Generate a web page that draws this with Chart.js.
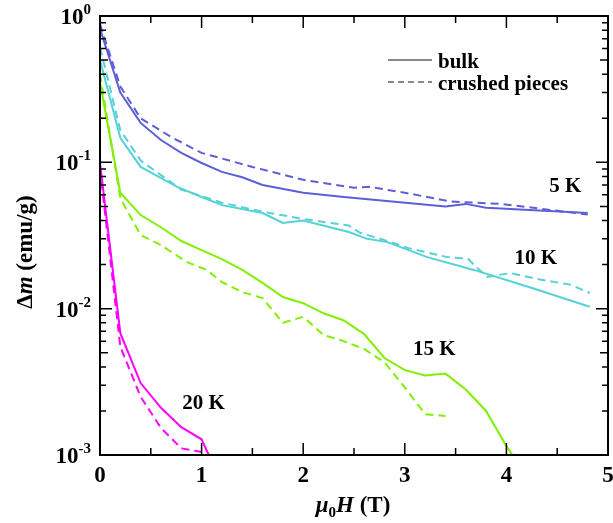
<!DOCTYPE html>
<html>
<head>
<meta charset="utf-8">
<script src="https://cdn.jsdelivr.net/npm/chart.js@4.4.0/dist/chart.umd.min.js"></script>
<style>
html, body { margin: 0; padding: 0; background: #fff; }
</style>
</head>
<body>
<canvas id="chart" width="613" height="523"></canvas>
<script>
// field (T) and moment difference (emu/g)
var field5bulk = [0, 0.2, 0.4, 0.6, 0.8, 1.0, 1.2, 1.4, 1.6, 2.0, 2.4, 3.4, 3.6, 3.8, 4.8];
var dm5bulk    = [0.82, 0.30, 0.186, 0.142, 0.116, 0.099, 0.086, 0.079, 0.070, 0.062, 0.058, 0.050, 0.052, 0.049, 0.045];
var field5crush = [0, 0.2, 0.4, 0.7, 1.0, 1.5, 2.0, 2.5, 2.65, 3.0, 3.45, 3.95, 4.8];
var dm5crush    = [0.88, 0.33, 0.20, 0.149, 0.116, 0.093, 0.076, 0.067, 0.068, 0.062, 0.054, 0.052, 0.044];

var field10bulk = [0, 0.2, 0.4, 0.76, 1.0, 1.2, 1.6, 1.8, 2.0, 2.45, 2.63, 2.83, 3.22, 3.68, 4.26, 4.82];
var dm10bulk    = [0.50, 0.147, 0.093, 0.068, 0.058, 0.051, 0.045, 0.0385, 0.040, 0.0334, 0.030, 0.0285, 0.0225, 0.0184, 0.0138, 0.0103];
var field10crush = [0, 0.2, 0.4, 0.8, 1.2, 1.6, 2.0, 2.45, 2.56, 2.83, 3.03, 3.42, 3.62, 3.71, 3.81, 4.04, 4.33, 4.63, 4.82];
var dm10crush    = [0.61, 0.166, 0.103, 0.065, 0.053, 0.046, 0.041, 0.037, 0.033, 0.029, 0.026, 0.0225, 0.022, 0.0191, 0.0165, 0.0175, 0.0158, 0.0146, 0.0128];

var field15bulk = [0, 0.2, 0.4, 0.6, 0.8, 1.0, 1.2, 1.4, 1.6, 1.8, 2.0, 2.2, 2.4, 2.6, 2.8, 3.0, 3.2, 3.4, 3.6, 3.8, 4.0, 4.06];
var dm15bulk    = [0.35, 0.062, 0.0436, 0.036, 0.029, 0.0251, 0.0218, 0.0184, 0.0150, 0.0120, 0.0109, 0.0093, 0.0083, 0.0067, 0.0046, 0.0038, 0.0035, 0.0036, 0.0028, 0.0020, 0.00115, 0.001];
var field15crush = [0, 0.2, 0.4, 0.6, 0.85, 1.05, 1.2, 1.4, 1.6, 1.8, 2.0, 2.2, 2.4, 2.6, 2.8, 3.0, 3.2, 3.4];
var dm15crush    = [0.40, 0.057, 0.0318, 0.0272, 0.0209, 0.0184, 0.0152, 0.0130, 0.0118, 0.0080, 0.0088, 0.0066, 0.0060, 0.0053, 0.0043, 0.0029, 0.0019, 0.00185];

var field20bulk = [0, 0.2, 0.4, 0.6, 0.8, 1.0, 1.07];
var dm20bulk    = [0.099, 0.0068, 0.0031, 0.0021, 0.00155, 0.00128, 0.001];
var field20crush = [0, 0.2, 0.4, 0.6, 0.8, 1.0];
var dm20crush    = [0.09, 0.0055, 0.0025, 0.00153, 0.00111, 0.00105];

var xTicks = [0, 1, 2, 3, 4, 5];
var yDecades = [0, -1, -2, -3];
var tempLabels = ['5 K', '10 K', '15 K', '20 K'];
var tempLabelX = [4.58, 4.29, 3.29, 1.02];
var tempLabelY = [0.070, 0.0225, 0.0054, 0.0023];
var legendNames = ['bulk', 'crushed pieces'];

var blue = '#5e5ed8', cyan = '#55d2d6', green = '#80f000', magenta = '#ff00ff';
var serif = '"Liberation Serif", "Times New Roman", serif';

function pts(xs, ys) {
    return xs.map(function(x, i) { return { x: x, y: ys[i] }; });
}
function ds(xs, ys, color, dashed) {
    return {
        data: pts(xs, ys),
        borderColor: color,
        borderWidth: 2,
        borderDash: dashed ? [8, 5] : [],
        pointRadius: 0,
        tension: 0,
        fill: false
    };
}

var frame = {
    id: 'frame',
    afterDraw: function(chart) {
        var ctx = chart.ctx, a = chart.chartArea;
        var xs = chart.scales.x, ys = chart.scales.y;
        ctx.save();
        ctx.strokeStyle = '#000';
        ctx.lineWidth = 2;
        ctx.strokeRect(a.left, a.top, a.right - a.left, a.bottom - a.top);

        // inward ticks on all four sides
        ctx.lineWidth = 1.5;
        ctx.beginPath();
        for (var t = 0; t <= 5; t += 0.5) {
            var px = xs.getPixelForValue(t);
            var len = (t % 1 === 0) ? 12 : 7;
            ctx.moveTo(px, a.bottom); ctx.lineTo(px, a.bottom - len);
            ctx.moveTo(px, a.top); ctx.lineTo(px, a.top + len);
        }
        yDecades.forEach(function(d) {
            for (var k = 1; k <= 9; k++) {
                var v = k * Math.pow(10, d);
                if (v > 1.0001 || v < 0.001) continue;
                var py = ys.getPixelForValue(v);
                var len = k === 1 ? 12 : (k === 5 ? 8 : 6);
                ctx.moveTo(a.left, py); ctx.lineTo(a.left + len, py);
                ctx.moveTo(a.right, py); ctx.lineTo(a.right - len, py);
            }
        });
        ctx.stroke();

        ctx.fillStyle = '#000';
        // x tick labels
        ctx.font = 'bold 23px ' + serif;
        ctx.textAlign = 'center';
        ctx.textBaseline = 'alphabetic';
        xTicks.forEach(function(t) {
            ctx.fillText(String(t), xs.getPixelForValue(t), 482);
        });

        // y tick labels 10^n
        ctx.textAlign = 'left';
        yDecades.forEach(function(d) {
            var py = ys.getPixelForValue(Math.pow(10, d));
            var sup = d === 0 ? '0' : '-' + Math.abs(d);
            ctx.font = 'bold 15px ' + serif;
            var ws = ctx.measureText(sup).width;
            ctx.font = 'bold 23px ' + serif;
            var wb = ctx.measureText('10').width;
            var right = 91;
            ctx.fillText('10', right - ws - wb, py + 8);
            ctx.font = 'bold 15px ' + serif;
            ctx.fillText(sup, right - ws, py - 2);
        });

        // x title: mu_0 H (T)
        var parts = [
            ['italic bold 23px ', '\u03bc', 0],
            ['bold 15px ', '0', 5],
            ['italic bold 23px ', 'H', 0],
            ['bold 23px ', ' (T)', 0]
        ];
        var total = 0;
        parts.forEach(function(p) { ctx.font = p[0] + serif; total += ctx.measureText(p[1]).width; });
        var cx = 353 - total / 2;
        parts.forEach(function(p) {
            ctx.font = p[0] + serif;
            ctx.fillText(p[1], cx, 512 + p[2]);
            cx += ctx.measureText(p[1]).width;
        });

        // y title: Delta m (emu/g)
        var yparts = [
            ['bold 23px ', '\u0394'],
            ['italic bold 23px ', 'm'],
            ['bold 23px ', ' (emu/g)']
        ];
        var ytotal = 0;
        yparts.forEach(function(p) { ctx.font = p[0] + serif; ytotal += ctx.measureText(p[1]).width; });
        ctx.save();
        ctx.translate(32, 252);
        ctx.rotate(-Math.PI / 2);
        var cy = -ytotal / 2;
        yparts.forEach(function(p) {
            ctx.font = p[0] + serif;
            ctx.fillText(p[1], cy, 0);
            cy += ctx.measureText(p[1]).width;
        });
        ctx.restore();

        // legend
        ctx.strokeStyle = '#888';
        ctx.lineWidth = 2;
        ctx.beginPath(); ctx.moveTo(388, 60); ctx.lineTo(432, 60); ctx.stroke();
        ctx.setLineDash([6, 4]);
        ctx.beginPath(); ctx.moveTo(388, 82); ctx.lineTo(432, 82); ctx.stroke();
        ctx.setLineDash([]);
        ctx.font = 'bold 21px ' + serif;
        ctx.fillText(legendNames[0], 438, 68);
        ctx.fillText(legendNames[1], 438, 90);

        // temperature labels
        ctx.textAlign = 'center';
        tempLabels.forEach(function(s, i) {
            ctx.fillText(s, xs.getPixelForValue(tempLabelX[i]), ys.getPixelForValue(tempLabelY[i]) + 7);
        });
        ctx.restore();
    }
};

new Chart(document.getElementById('chart'), {
    type: 'line',
    data: {
        datasets: [
            ds(field5bulk, dm5bulk, blue, false),
            ds(field5crush, dm5crush, blue, true),
            ds(field10bulk, dm10bulk, cyan, false),
            ds(field10crush, dm10crush, cyan, true),
            ds(field15bulk, dm15bulk, green, false),
            ds(field15crush, dm15crush, green, true),
            ds(field20bulk, dm20bulk, magenta, false),
            ds(field20crush, dm20crush, magenta, true)
        ]
    },
    options: {
        responsive: false,
        animation: false,
        layout: { padding: { top: 16, right: 5, left: 0, bottom: 0 } },
        plugins: { legend: { display: false }, tooltip: { enabled: false } },
        scales: {
            x: {
                type: 'linear', min: 0, max: 5,
                grid: { display: false }, border: { display: false },
                ticks: { display: false },
                afterFit: function(s) { s.height = 68; }
            },
            y: {
                type: 'logarithmic', min: 0.001, max: 1,
                grid: { display: false }, border: { display: false },
                ticks: { display: false },
                afterFit: function(s) { s.width = 100; }
            }
        }
    },
    plugins: [frame]
});
</script>
</body>
</html>
